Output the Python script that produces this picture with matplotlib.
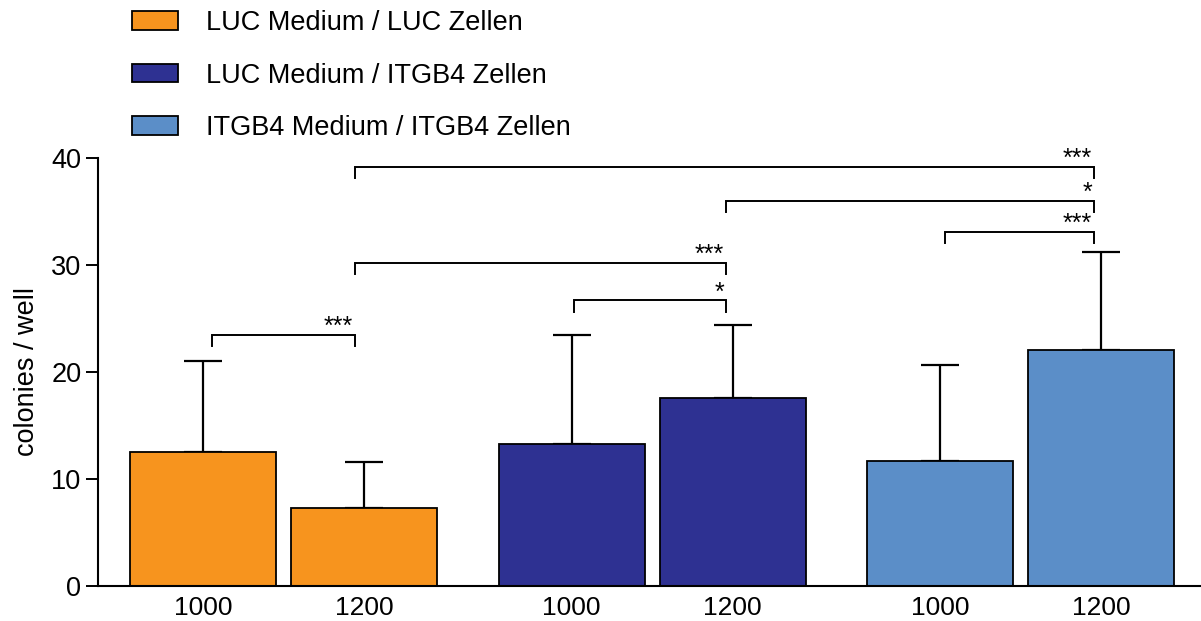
import matplotlib.pyplot as plt
import numpy as np

plt.rcParams['font.family'] = ['Liberation Sans', 'DejaVu Sans']

# Koloniebildung je Well, Mittelwert + SD
gruppen = ['LUC Medium / LUC Zellen', 'LUC Medium / ITGB4 Zellen',
           'ITGB4 Medium / ITGB4 Zellen']
zellzahl = ['1000', '1200']
mittelwert = [12.5, 7.3, 13.3, 17.6, 11.7, 22.1]
sd = [8.5, 4.3, 10.2, 6.8, 9.0, 9.1]

farben = ['#F7941E', '#2E3192', '#5B8EC8']

# Signifikanzen: (Balken links, Balken rechts, Hoehe, Sterne)
vergleiche = [
    (0, 1, 23.5, '***'),
    (1, 3, 30.2, '***'),
    (2, 3, 26.7, '*'),
    (1, 5, 39.2, '***'),
    (3, 5, 36.0, '*'),
    (4, 5, 33.1, '***'),
]

pos = np.array([0, 1, 2.29, 3.29, 4.58, 5.58])
# Klammerenden leicht neben der Balkenmitte
versatz = np.array([0.056, -0.056, 0.014, -0.042, 0.03, -0.046])
balkenfarben = [farben[i // 2] for i in range(len(mittelwert))]

fig = plt.figure(figsize=(12.01, 6.21), dpi=100)
ax = fig.add_axes([98 / 1201, 1 - 586 / 621, 1 - 98 / 1201, 428 / 621])

bars = ax.bar(pos, mittelwert, width=0.907, color=balkenfarben,
              edgecolor='black', linewidth=1.3, zorder=2)
ax.errorbar(pos, mittelwert, yerr=[np.zeros(len(sd)), sd], fmt='none',
            ecolor='black', elinewidth=1.6, capsize=13.5, capthick=1.6,
            zorder=1)

# Klammern mit Sternen
for links, rechts, h, stern in vergleiche:
    x1 = pos[links] + versatz[links]
    x2 = pos[rechts] + versatz[rechts]
    ax.plot([x1, x1, x2, x2], [h - 1.05, h, h, h - 1.05], color='black',
            linewidth=1.4, clip_on=False, solid_joinstyle='miter')
    ax.text(x2 - 0.01, h - 0.4, stern, ha='right', va='bottom', fontsize=18,
            clip_on=False)

ax.set_xlim(-0.652, 6.199)
ax.set_ylim(0, 40)
ax.set_xticks(pos)
ax.set_xticklabels(zellzahl * 3, fontsize=19)
ax.tick_params(axis='x', length=0, pad=7)
ax.set_yticks([0, 10, 20, 30, 40])
ax.tick_params(axis='y', labelsize=19.5, length=9, width=1.4, pad=3)
ax.set_ylabel('colonies / well', fontsize=19.5, labelpad=8)

for s in ['top', 'right']:
    ax.spines[s].set_visible(False)
for s in ['left', 'bottom']:
    ax.spines[s].set_linewidth(1.5)

ax.legend([bars[0], bars[2], bars[4]], gruppen, loc='upper left',
          bbox_to_anchor=(108 / 1201, 1.023), bbox_transform=fig.transFigure,
          frameon=False, fontsize=19.5, handlelength=1.7, handleheight=0.67,
          handletextpad=1.0, labelspacing=0.98)

fig.savefig('out.png', dpi=100)
